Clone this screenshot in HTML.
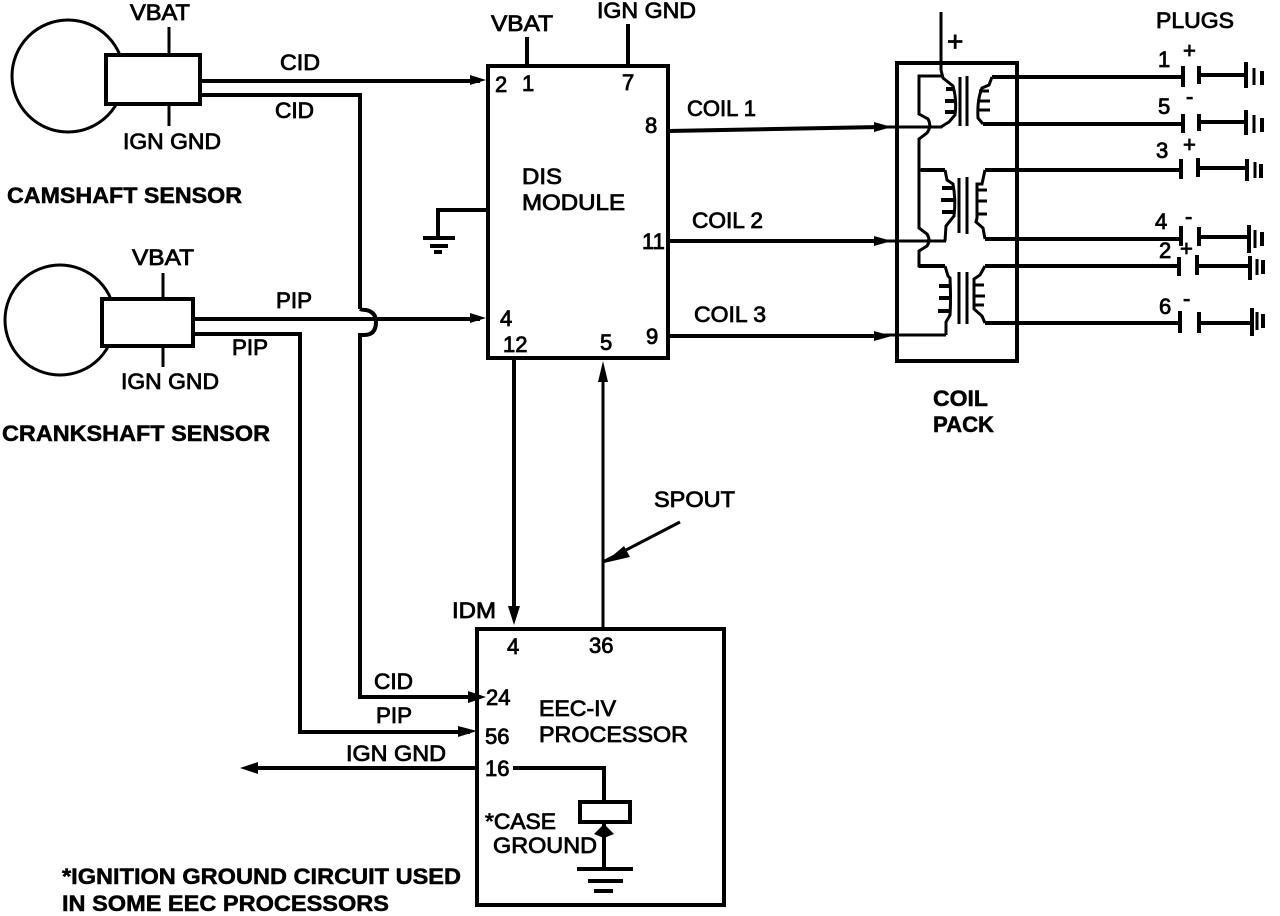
<!DOCTYPE html>
<html><head><meta charset="utf-8"><style>
html,body{margin:0;padding:0;background:#fff}
svg{display:block}
text{font-family:"Liberation Sans",Arial,sans-serif;font-size:22px;fill:#000;stroke:#000;stroke-width:.8px}
.b{stroke-width:.5px;font-weight:bold}
path,line,rect,circle{fill:none;stroke:#000;stroke-width:3}
.t{stroke-width:4}
.f{fill:#000;stroke:none}
</style></head><body>
<svg xmlns="http://www.w3.org/2000/svg" width="1280" height="916" viewBox="0 0 1280 916">
<rect x="0" y="0" width="1280" height="916" style="fill:#fff;stroke:none"/>
<!-- camshaft -->
<circle cx="68" cy="76" r="56"/>
<rect x="106" y="55" width="94" height="49" style="fill:#fff" class="t"/>
<path d="M169 27V55M169 104V126"/>
<path class="t" d="M200 81H480"/>
<path class="t" d="M200 95H360V309"/>
<!-- crank -->
<circle cx="60" cy="320" r="55"/>
<rect x="102" y="299" width="91" height="47" style="fill:#fff" class="t"/>
<path d="M163 273V299M163 346V367"/>
<path class="t" d="M193 319H480"/>
<path class="t" d="M193 334H300V732H470"/>
<path class="t" d="M360 309Q362 310 366 310Q376 312 376 322Q376 335 364 335H360V697H470"/>
<!-- DIS -->
<rect x="488" y="66" width="180" height="292" class="t"/>
<path class="t" d="M527 37V66M628 24V66"/>
<path class="t" d="M488 210H438V238"/>
<path class="t" d="M423 238H455M430 246H448"/><path style="stroke-width:4" d="M434 252H442"/>
<path class="t" d="M668 131L880 127"/><path d="M880 127H942"/>
<path class="t" d="M668 241H880"/><path d="M880 241H946"/>
<path class="t" d="M668 336H880"/><path d="M880 335H946"/>
<path class="f" d="M470 75L486 80L470 85ZM470 313L486 318L470 323Z"/>
<path class="f" d="M874 122L892 127L874 132ZM874 236L892 241L874 246ZM874 331L892 336L874 341Z"/>
<!-- DIS-EEC -->
<path class="t" d="M514 358V612"/>
<path class="f" d="M508 606L514 625L520 606Z"/>
<path d="M603 629V375"/>
<path class="f" d="M598 382L603 361L608 382Z"/>
<path d="M603 562L680 522"/>
<path class="f" d="M604 563L624 546L630 557Z"/>
<!-- EEC -->
<rect x="477" y="629" width="247" height="276" class="t"/>
<path class="f" d="M468 691L486 697L468 703ZM458 726L477 731L458 737Z"/>
<path class="t" d="M477 768H255"/>
<path class="f" d="M258 762L240 768L258 774Z"/>
<path class="t" d="M513 768H604V802"/>
<rect x="580" y="802" width="50" height="20" class="t"/>
<path class="t" d="M604 824V868"/>
<path class="f" d="M604 824L614 834L604 838L594 834Z"/>
<path class="t" d="M577 869H633M588 881H623M594 891H613"/>
<!-- coil pack -->
<rect x="897" y="63" width="120" height="298" class="t"/>
<path d="M941 12V70"/>
<!-- Coil 1 -->
<path d="M941 70L943 78L953 86Q957 100 955 115L949 122L944 125L941 127"/>
<path class="t" d="M946 89H954M945 101H955M945 112H955"/>
<path d="M942 76H919V114L928 119Q932 126 927 133L919 139V170H945"/>
<path d="M960 77V126M967 76V126"/>
<path class="t" d="M992 77H1182"/>
<path d="M992 77L989 85L982 88Q977 100 978 118L983 124"/>
<path d="M979 91H989M978 101H990M978 110H990"/>
<path class="t" d="M983 124H1182"/>
<!-- Coil 2 -->
<path class="t" d="M921 170H945"/>
<path d="M945 170L947 180L953 184Q956 200 954 216L946 226L945 241"/>
<path class="t" d="M942 188H954M941 200H955M942 212H955"/>
<path d="M919 170V228L927 234Q931 240 927 246L919 251V266H945"/>
<path d="M959 178V233M967 177V234"/>
<path class="t" d="M985 170H1182"/>
<path d="M985 170L982 184H977V218L976 222L983 228L985 239"/>
<path d="M977 190H987M977 201H987M977 214H987"/>
<path class="t" d="M985 239H1180"/>
<!-- Coil 3 -->
<path class="t" d="M919 266H945"/>
<path d="M945 266L948 276L950 278Q951 300 950 315L946 322V335"/>
<path class="t" d="M939 286H950M939 298H951M938 311H950"/>
<path d="M959 272V324M967 272V324"/>
<path class="t" d="M985 266H1180"/>
<path d="M985 266L980 275L974 279V309L982 316L985 323"/>
<path d="M974 285H984M974 296H985M974 305H984"/>
<path class="t" d="M985 323H1180"/>
<!-- Plugs -->
<path class="t" d="M1183 66V87M1199 66V84M1199 75H1245"/>
<path class="t" d="M1246 62V88"/><path d="M1254 68V85"/><path class="t" d="M1262 71V85"/>
<path class="t" d="M1183 114V133M1199 114V131M1199 122H1245"/>
<path class="t" d="M1246 110V135"/><path d="M1254 115V133"/><path class="t" d="M1262 118V132"/>
<path class="t" d="M1181 159V179M1198 158V177M1198 168H1246"/>
<path class="t" d="M1247 159V181"/><path d="M1255 162V178"/><path class="t" d="M1261 164V178"/>
<path class="t" d="M1181 226V246M1199 227V246M1199 237H1247"/>
<path class="t" d="M1249 225V253"/><path d="M1255 230V248"/><path class="t" d="M1262 232V246"/>
<path class="t" d="M1179 257V276M1197 255V275M1197 266H1249"/>
<path class="t" d="M1250 256V280"/><path d="M1257 259V275"/><path class="t" d="M1263 260V274"/>
<path class="t" d="M1180 311V333M1199 312V333M1199 323H1251"/>
<path class="t" d="M1252 308V336"/><path d="M1257 312V330"/><path class="t" d="M1263 314V328"/>
<!-- labels -->
<text x="130" y="20" textLength="60" lengthAdjust="spacingAndGlyphs">VBAT</text>
<text x="123" y="149" textLength="98" lengthAdjust="spacingAndGlyphs">IGN GND</text>
<text class="b" x="7" y="203" textLength="235" lengthAdjust="spacingAndGlyphs">CAMSHAFT SENSOR</text>
<text x="280" y="70" textLength="40" lengthAdjust="spacingAndGlyphs">CID</text>
<text x="275" y="118" textLength="39" lengthAdjust="spacingAndGlyphs">CID</text>
<text x="132" y="265" textLength="62" lengthAdjust="spacingAndGlyphs">VBAT</text>
<text x="121" y="389" textLength="98" lengthAdjust="spacingAndGlyphs">IGN GND</text>
<text class="b" x="2" y="441" textLength="268" lengthAdjust="spacingAndGlyphs">CRANKSHAFT SENSOR</text>
<text x="276" y="308" textLength="36" lengthAdjust="spacingAndGlyphs">PIP</text>
<text x="232" y="355" textLength="36" lengthAdjust="spacingAndGlyphs">PIP</text>
<text x="491" y="31" textLength="62" lengthAdjust="spacingAndGlyphs">VBAT</text>
<text x="597" y="18" textLength="99" lengthAdjust="spacingAndGlyphs">IGN GND</text>
<text x="495" y="92">2</text><text x="522" y="91">1</text><text x="622" y="90">7</text>
<text x="645" y="133">8</text><text x="642" y="249">11</text><text x="646" y="344">9</text>
<text x="500" y="326">4</text><text x="503" y="352">12</text><text x="600" y="350">5</text>
<text x="522" y="184" textLength="40" lengthAdjust="spacingAndGlyphs">DIS</text>
<text x="522" y="210" textLength="103" lengthAdjust="spacingAndGlyphs">MODULE</text>
<text x="687" y="116" textLength="69" lengthAdjust="spacingAndGlyphs">COIL 1</text>
<text x="692" y="228" textLength="71" lengthAdjust="spacingAndGlyphs">COIL 2</text>
<text x="694" y="322" textLength="72" lengthAdjust="spacingAndGlyphs">COIL 3</text>
<text class="b" x="933" y="406" textLength="55" lengthAdjust="spacingAndGlyphs">COIL</text>
<text class="b" x="933" y="432" textLength="61" lengthAdjust="spacingAndGlyphs">PACK</text>
<text x="1156" y="28" textLength="78" lengthAdjust="spacingAndGlyphs">PLUGS</text>
<text x="654" y="507" textLength="81" lengthAdjust="spacingAndGlyphs">SPOUT</text>
<text x="452" y="618" textLength="44" lengthAdjust="spacingAndGlyphs">IDM</text>
<text x="507" y="654">4</text><text x="589" y="653">36</text>
<text x="486" y="705">24</text><text x="485" y="744">56</text><text x="485" y="776">16</text>
<text x="374" y="689" textLength="39" lengthAdjust="spacingAndGlyphs">CID</text>
<text x="376" y="723" textLength="36" lengthAdjust="spacingAndGlyphs">PIP</text>
<text x="346" y="761" textLength="100" lengthAdjust="spacingAndGlyphs">IGN GND</text>
<text x="539" y="716" textLength="77" lengthAdjust="spacingAndGlyphs">EEC-IV</text>
<text x="539" y="742" textLength="149" lengthAdjust="spacingAndGlyphs">PROCESSOR</text>
<text x="485" y="829" textLength="71" lengthAdjust="spacingAndGlyphs">*CASE</text>
<text x="493" y="853" textLength="104" lengthAdjust="spacingAndGlyphs">GROUND</text>
<text class="b" x="62" y="884" textLength="399" lengthAdjust="spacingAndGlyphs">*IGNITION GROUND CIRCUIT USED</text>
<text class="b" x="62" y="911" textLength="327" lengthAdjust="spacingAndGlyphs">IN SOME EEC PROCESSORS</text>
<text x="1158" y="67">1</text><text x="1158" y="114">5</text><text x="1156" y="158">3</text>
<text x="1155" y="229">4</text><text x="1159" y="258">2</text><text x="1159" y="314">6</text>
<text x="1183" y="58">+</text><text x="1186" y="104">-</text><text x="1183" y="152">+</text>
<text x="1185" y="224">-</text><text x="1180" y="256">+</text><text x="1183" y="306">-</text>
<text x="947" y="51" style="font-size:28px">+</text>
</svg>
</body></html>
